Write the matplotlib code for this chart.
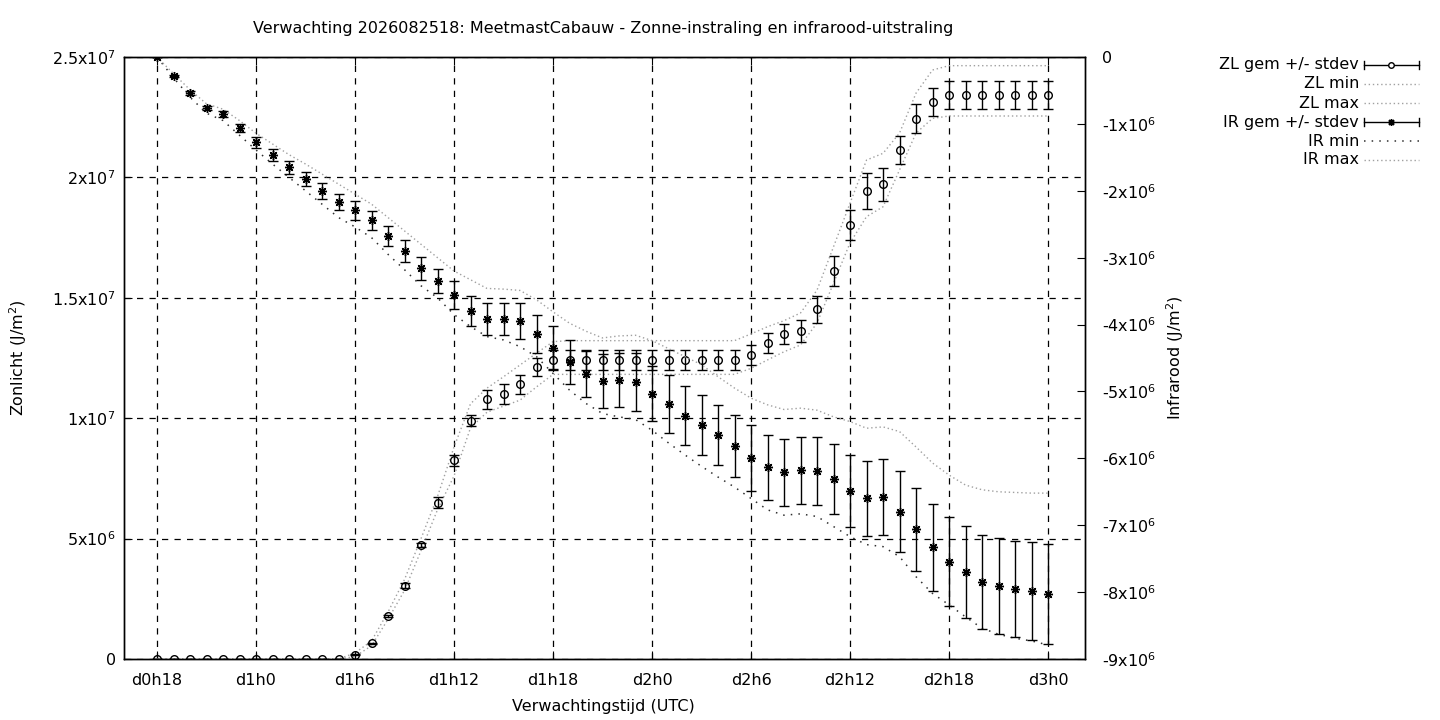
import matplotlib
matplotlib.use('Agg')
import matplotlib.pyplot as plt
from matplotlib.lines import Line2D
import numpy as np

plt.rcParams['font.family'] = ['DejaVu Sans']
plt.rcParams['mathtext.fontset'] = 'dejavusans'

# uren na d0h18, elk uur een waarde
uren = np.arange(55)
xtick_pos = [0, 6, 12, 18, 24, 30, 36, 42, 48, 54]
xtick_lab = ['d0h18', 'd1h0', 'd1h6', 'd1h12', 'd1h18', 'd2h0', 'd2h6', 'd2h12', 'd2h18', 'd3h0']

# zonlicht (x1e6 J/m2)
zl_gem = [0]*12 + [0.17, 0.65, 1.79, 3.05, 4.73, 6.49, 8.26, 9.9, 10.78, 10.99, 11.41, 12.13] \
    + [12.42]*12 + [12.62, 13.11, 13.5, 13.62, 14.52, 16.11, 18.02, 19.44, 19.71, 21.14, 22.43, 23.12] \
    + [23.42]*7
zl_sd = [0]*12 + [0.02, 0.03, 0.04, 0.11, 0.07, 0.22, 0.23, 0.23, 0.39, 0.42, 0.39, 0.38] \
    + [0.42]*12 + [0.42, 0.42, 0.43, 0.46, 0.55, 0.61, 0.62, 0.74, 0.68, 0.57, 0.6, 0.59] \
    + [0.6]*7
zl_min = [0]*12 + [0.1, 0.55, 1.65, 2.85, 4.5, 6.2, 7.6, 9.6, 10.25, 10.5, 10.75, 11.3] \
    + [11.82]*12 + [12.07, 12.42, 12.76, 13.04, 13.95, 15.61, 17.28, 18.37, 18.78, 20.31, 21.84, 22.45] \
    + [22.55]*7
zl_max = [0]*12 + [0.25, 0.75, 1.95, 3.3, 5.0, 6.75, 8.8, 10.6, 11.25, 11.72, 12.21, 12.7] \
    + [13.18] + [13.22]*11 + [13.5, 13.8, 14.05, 14.37, 15.32, 17.12, 18.93, 20.72, 21.0, 21.84, 23.5, 24.46] \
    + [24.64]*7

# infrarood (x1e6 J/m2)
ir_gem = [0, -0.284, -0.543, -0.767, -0.852, -1.066, -1.275, -1.465, -1.649, -1.824, -2.003,
          -2.172, -2.29, -2.44, -2.676, -2.9, -3.16, -3.348, -3.557, -3.797, -3.92, -3.92,
          -3.946, -4.14, -4.345, -4.554, -4.738, -4.843, -4.828, -4.858, -5.037, -5.187,
          -5.361, -5.506, -5.655, -5.815, -5.999, -6.134, -6.209, -6.18, -6.19, -6.313,
          -6.487, -6.597, -6.577, -6.796, -7.06, -7.329, -7.544, -7.703, -7.848, -7.907,
          -7.957, -7.982, -8.032]
ir_sd = [0, 0.02, 0.03, 0.03, 0.04, 0.06, 0.08, 0.09, 0.1, 0.11, 0.12, 0.12, 0.14, 0.14,
         0.15, 0.17, 0.17, 0.18, 0.21, 0.23, 0.24, 0.24, 0.27, 0.29, 0.32, 0.33, 0.35, 0.41,
         0.41, 0.43, 0.41, 0.43, 0.44, 0.45, 0.45, 0.47, 0.49, 0.49, 0.5, 0.5, 0.51, 0.52,
         0.54, 0.56, 0.57, 0.6, 0.62, 0.65, 0.67, 0.69, 0.7, 0.72, 0.72, 0.73, 0.75]
ir_max = [0, -0.25, -0.49, -0.7, -0.78, -0.95, -1.14, -1.3, -1.46, -1.6, -1.75, -1.9, -2.05,
          -2.2, -2.4, -2.6, -2.8, -3.0, -3.2, -3.33, -3.46, -3.47, -3.49, -3.63, -3.81, -3.98,
          -4.1, -4.2, -4.17, -4.16, -4.24, -4.36, -4.48, -4.6, -4.78, -4.95, -5.1, -5.2, -5.27,
          -5.25, -5.28, -5.38, -5.45, -5.55, -5.53, -5.6, -5.83, -6.07, -6.25, -6.4, -6.47,
          -6.5, -6.51, -6.52, -6.52]
ir_min = [0, -0.31, -0.6, -0.84, -0.95, -1.17, -1.39, -1.6, -1.8, -2.0, -2.2, -2.4, -2.54,
          -2.7, -2.95, -3.18, -3.42, -3.6, -3.85, -4.03, -4.18, -4.23, -4.33, -4.48, -4.73,
          -4.98, -5.18, -5.33, -5.38, -5.42, -5.58, -5.77, -5.95, -6.12, -6.28, -6.43, -6.6,
          -6.77, -6.85, -6.83, -6.87, -7.02, -7.17, -7.29, -7.32, -7.47, -7.77, -8.02, -8.19,
          -8.37, -8.54, -8.63, -8.69, -8.73, -8.79]

e6 = 1e6
zl_gem = np.array(zl_gem) * e6
zl_sd = np.array(zl_sd) * e6
zl_min = np.array(zl_min) * e6
zl_max = np.array(zl_max) * e6
ir_gem = np.array(ir_gem) * e6
ir_sd = np.array(ir_sd) * e6
ir_min = np.array(ir_min) * e6
ir_max = np.array(ir_max) * e6

W, H = 1440, 720
fig = plt.figure(figsize=(W/100, H/100), dpi=100)
x0, x1, y0, y1 = 124, 1085, 57, 659
ax = fig.add_axes([x0/W, 1 - y1/H, (x1 - x0)/W, (y1 - y0)/H])
ax2 = ax.twinx()

fs = 11.5
grijs = '#a0a0a0'
ster = (8, 2, 0)

# zonlicht op linker as
ax.plot(uren, zl_min, color=grijs, lw=1, dashes=(1, 2))
ax.plot(uren, zl_max, color=grijs, lw=1, dashes=(1, 2))
ax.errorbar(uren, zl_gem, yerr=zl_sd, fmt='o', ms=5.5, mfc='none', mec='black', mew=1,
            ecolor='black', elinewidth=1, capsize=3.8, capthick=1)

# infrarood op rechter as
ax2.plot(uren, ir_min, color='#303030', lw=1.1, dashes=(1, 4))
ax2.plot(uren, ir_max, color=grijs, lw=1, dashes=(1, 2))
ax2.errorbar(uren, ir_gem, yerr=ir_sd, fmt='none', ecolor='black', elinewidth=1,
             capsize=3.8, capthick=1)
ax2.plot(uren, ir_gem, ls='none', marker=ster, ms=6.5, mec='black', mew=1)

ax.set_xlim(-2, 56.24)
ax.set_ylim(0, 2.5e7)
ax2.set_ylim(-9e6, 0)

ax.set_xticks(xtick_pos)
ax.set_xticklabels(xtick_lab)
ax.set_yticks([0, 5e6, 1e7, 1.5e7, 2e7, 2.5e7])
ax.set_yticklabels(['0', r'5x10$^{6}$', r'1x10$^{7}$', r'1.5x10$^{7}$', r'2x10$^{7}$', r'2.5x10$^{7}$'])
ir_ticks = np.arange(-9, 1) * 1e6
ax2.set_yticks(ir_ticks)
ax2.set_yticklabels(['0' if v == 0 else r'%dx10$^{6}$' % int(v/1e6) for v in ir_ticks])

ax.tick_params(axis='x', direction='in', length=6, top=True, labelsize=fs, pad=10)
ax.tick_params(axis='y', direction='in', length=6, right=False, labelsize=fs, pad=6)
ax2.tick_params(axis='y', direction='in', length=6, labelsize=fs, pad=12)

ax.grid(True, color='black', lw=0.9, linestyle=(0, (5, 5)))
ax.set_axisbelow(True)
for sp in list(ax.spines.values()) + list(ax2.spines.values()):
    sp.set_linewidth(1)
    sp.set_color('black')

fig.text(603/W, 1 - 29/H, 'Verwachting 2026082518: MeetmastCabauw - Zonne-instraling en infrarood-uitstraling',
         ha='center', va='center', fontsize=fs)
fig.text(603/W, 1 - 706/H, 'Verwachtingstijd (UTC)', ha='center', va='center', fontsize=fs)
fig.text(18/W, 1 - 358/H, 'Zonlicht (J/m$^2$)', ha='center', va='center', rotation=90, fontsize=fs)
fig.text(1175/W, 1 - 358/H, 'Infrarood (J/m$^2$)', ha='center', va='center', rotation=90, fontsize=fs)

# legenda buiten de grafiek, tekst rechts uitgelijnd
lg = fig.add_axes([0, 0, 1, 1], facecolor='none')
lg.set_xlim(0, W)
lg.set_ylim(H, 0)
lg.axis('off')
rijen = [('ZL gem +/- stdev', 'eb_o'), ('ZL min', 'zl'), ('ZL max', 'zl'),
         ('IR gem +/- stdev', 'eb_s'), ('IR min', 'irmin'), ('IR max', 'zl')]
ly = 65
for tekst, soort in rijen:
    lg.text(1359, ly, tekst, ha='right', va='center', fontsize=fs)
    if soort.startswith('eb'):
        lg.add_line(Line2D([1364, 1419], [ly, ly], color='black', lw=1))
        lg.add_line(Line2D([1364, 1364], [ly - 4, ly + 4], color='black', lw=1))
        lg.add_line(Line2D([1419, 1419], [ly - 4, ly + 4], color='black', lw=1))
        if soort == 'eb_o':
            lg.plot([1391], [ly], 'o', ms=4, mfc='white', mec='black', mew=1)
        else:
            lg.plot([1391], [ly], ls='none', marker=ster, ms=5, mec='black', mew=1)
    elif soort == 'irmin':
        lg.add_line(Line2D([1364, 1419], [ly, ly], color='#303030', lw=1.1, dashes=(1, 4)))
    else:
        lg.add_line(Line2D([1364, 1419], [ly, ly], color=grijs, lw=1, dashes=(1, 2)))
    ly += 19

fig.savefig('out.png', dpi=100)
